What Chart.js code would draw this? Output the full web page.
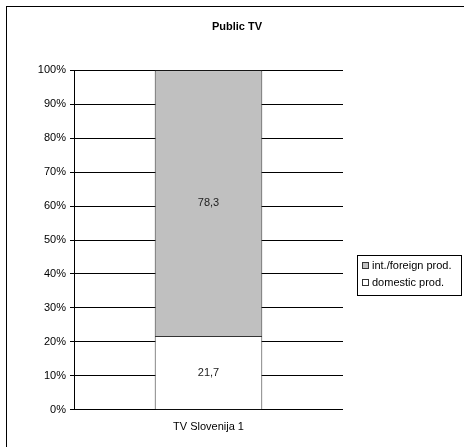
<!DOCTYPE html>
<html>
<head>
<meta charset="utf-8">
<script src="https://cdn.jsdelivr.net/npm/chart.js@4.4.0/dist/chart.umd.min.js"></script>
<style>
  html, body { margin: 0; padding: 0; background: #fff; }
  #wrap { position: relative; width: 464px; height: 447px; overflow: hidden; }
  #frame { position: absolute; left: 6px; top: 6px; width: 520px; height: 520px; border: 1px solid #000; box-sizing: border-box; }
  canvas { position: absolute; left: 0; top: 0; }
</style>
</head>
<body>
<div id="wrap">
  <div id="frame"></div>
  <canvas id="chart" width="464" height="447"></canvas>
</div>
<script>
const categories = ['TV Slovenija 1'];
const domesticValues = [21.7];
const foreignValues = [78.3];
const seriesLabels = ['domestic prod.', 'int./foreign prod.'];
const chartTitle = 'Public TV';

const fontFamily = '"Liberation Sans", Arial, sans-serif';

// value labels in the middle of each stacked segment
const segmentLabels = {
  id: 'segmentLabels',
  afterDatasetsDraw(chart) {
    const ctx = chart.ctx;
    ctx.save();
    ctx.font = '11px ' + fontFamily;
    ctx.fillStyle = '#222';
    ctx.textAlign = 'center';
    ctx.textBaseline = 'middle';
    chart.data.datasets.forEach((ds, i) => {
      chart.getDatasetMeta(i).data.forEach((bar, j) => {
        const p = bar.getProps(['x', 'y', 'base'], true);
        const text = ds.data[j].toFixed(1).replace('.', ',');
        ctx.fillText(text, p.x, (p.y + p.base) / 2);
      });
    });
    ctx.restore();
  }
};

// boxed legend to the right, like the original
const boxedLegend = {
  id: 'boxedLegend',
  afterDraw(chart) {
    const ctx = chart.ctx;
    const left = 357, top = 255, width = 104, height = 40;
    ctx.save();
    ctx.strokeStyle = '#000';
    ctx.lineWidth = 1;
    ctx.strokeRect(left + 0.5, top + 0.5, width, height);
    ctx.font = '11px ' + fontFamily;
    ctx.textBaseline = 'middle';
    const items = chart.data.datasets.slice().reverse();
    items.forEach((ds, i) => {
      const y = top + 11 + i * 17;
      ctx.fillStyle = ds.backgroundColor;
      ctx.fillRect(left + 5.5, y - 3.5, 6, 6);
      ctx.strokeStyle = '#333';
      ctx.strokeRect(left + 5.5, y - 3.5, 6, 6);
      ctx.fillStyle = '#000';
      ctx.fillText(ds.label, left + 15, y);
    });
    ctx.restore();
  }
};

new Chart(document.getElementById('chart'), {
  type: 'bar',
  data: {
    labels: categories,
    datasets: [
      {
        label: seriesLabels[0],
        data: domesticValues,
        backgroundColor: '#ffffff',
        borderColor: '#333',
        borderWidth: 1
      },
      {
        label: seriesLabels[1],
        data: foreignValues,
        backgroundColor: '#c0c0c0',
        borderColor: '#333',
        borderWidth: 1
      }
    ]
  },
  options: {
    responsive: false,
    animation: false,
    devicePixelRatio: 1,
    categoryPercentage: 1,
    barPercentage: 0.4,
    layout: { padding: { left: 10, right: 0, top: 0, bottom: 10 } },
    plugins: {
      legend: { display: false },
      tooltip: { enabled: false },
      title: {
        display: true,
        text: chartTitle,
        color: '#000',
        font: { family: fontFamily, size: 11, weight: 'bold' },
        padding: { top: 20, bottom: 37 }
      }
    },
    scales: {
      x: {
        stacked: true,
        grid: { display: false },
        border: { display: false },
        ticks: { color: '#000', font: { family: fontFamily, size: 11 }, padding: 3 }
      },
      y: {
        stacked: true,
        min: 0,
        max: 100,
        afterFit(scale) { scale.width = 64; },
        grid: { color: '#000', lineWidth: 1, tickLength: 4, drawTicks: true },
        border: { display: true, color: '#000', width: 1 },
        ticks: {
          stepSize: 10,
          color: '#000',
          padding: 4,
          font: { family: fontFamily, size: 11 },
          callback: v => v + '%'
        }
      },
      // empty right-hand axis that reserves the legend's room
      yRight: {
        position: 'right',
        display: true,
        afterFit(scale) { scale.width = 121; },
        grid: { display: false },
        border: { display: false },
        ticks: { display: false }
      }
    }
  },
  plugins: [segmentLabels, boxedLegend]
});
</script>
</body>
</html>
